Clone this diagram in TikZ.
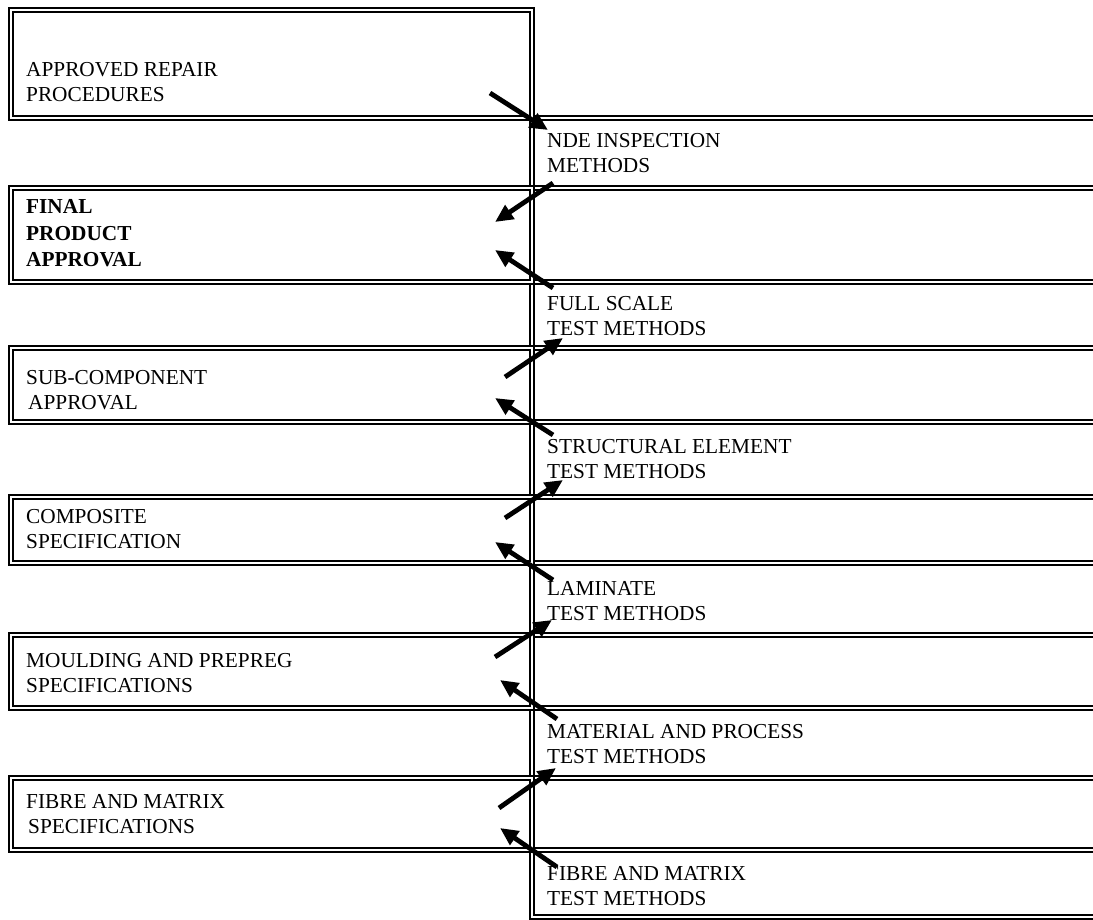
\documentclass[tikz,border=0pt]{standalone}
\usepackage{fontspec}
\setmainfont{Liberation Serif}
\usepackage{tikz}
\usetikzlibrary{arrows.meta, positioning}

\begin{document}
\begin{tikzpicture}[
        x=1pt, y=-1pt,
        box/.style={
            draw=black,
            line width=1.8pt,
            double=white,
            double distance=2pt,
            anchor=north west,
            outer sep=0pt,
            inner sep=0pt
        },
        leftbox/.style={box, minimum width=521pt},
        rightbox/.style={box, minimum width=580pt},
        boxtext/.style={
            anchor=base west,
            inner sep=0pt,
            align=left,
            font=\fontsize{21.3}{25}\selectfont
        },
        flow/.style={
            -{Triangle[length=18pt, width=16pt]},
            line width=4.8pt
        }
    ]
    \useasboundingbox (0,0) rectangle (1093,920);
    \clip (0,0) rectangle (1093,920);

    % right column
    \node[rightbox, minimum height=70pt] (nde) at (532,118) {};
    \node[rightbox, minimum height=94pt] (gap1) at (532,188) {};
    \node[rightbox, minimum height=66pt] (fullscale) at (532,282) {};
    \node[rightbox, minimum height=74pt] (gap2) at (532,348) {};
    \node[rightbox, minimum height=75pt] (structural) at (532,422) {};
    \node[rightbox, minimum height=66pt] (gap3) at (532,497) {};
    \node[rightbox, minimum height=72pt] (laminate) at (532,563) {};
    \node[rightbox, minimum height=73pt] (gap4) at (532,635) {};
    \node[rightbox, minimum height=70pt] (material) at (532,708) {};
    \node[rightbox, minimum height=72pt] (gap5) at (532,778) {};
    \node[rightbox, minimum height=67pt] (fibretest) at (532,850) {};

    % left column
    \node[leftbox, minimum height=108pt] (repair) at (11,10) {};
    \node[leftbox, minimum height=94pt] (final) at (11,188) {};
    \node[leftbox, minimum height=74pt] (subcomp) at (11,348) {};
    \node[leftbox, minimum height=66pt] (composite) at (11,497) {};
    \node[leftbox, minimum height=73pt] (moulding) at (11,635) {};
    \node[leftbox, minimum height=72pt] (fibrespec) at (11,778) {};

    % texts (placed at the baseline of their last line)
    \node[boxtext] (repair-txt) at (26,102) {APPROVED REPAIR\\PROCEDURES};
    \node[boxtext, font=\fontsize{21.3}{26.7}\selectfont\bfseries] (final-txt) at (26,267) {FINAL\\PRODUCT\\APPROVAL};
    \node[boxtext] (subcomp-txt) at (26,409) {SUB-COMPONENT\\\hspace{2pt}APPROVAL};
    \node[boxtext] (composite-txt) at (26,548) {COMPOSITE\\SPECIFICATION};
    \node[boxtext] (moulding-txt) at (26,692) {MOULDING AND PREPREG\\SPECIFICATIONS};
    \node[boxtext] (fibrespec-txt) at (26,833) {FIBRE AND MATRIX\\\hspace{2pt}SPECIFICATIONS};

    \node[boxtext] (nde-txt) at (547,173) {NDE INSPECTION\\METHODS};
    \node[boxtext] (fullscale-txt) at (547,335) {FULL SCALE\\TEST METHODS};
    \node[boxtext] (structural-txt) at (547,478) {STRUCTURAL ELEMENT\\TEST METHODS};
    \node[boxtext] (laminate-txt) at (547,620) {LAMINATE\\TEST METHODS};
    \node[boxtext] (material-txt) at (547,763) {MATERIAL AND PROCESS\\TEST METHODS};
    \node[boxtext] (fibretest-txt) at (547,905) {FIBRE AND MATRIX\\TEST METHODS};

    % arrow ends
    \coordinate (repair-out) at (490,93);
    \coordinate (nde-in) at (548,130);
    \coordinate (nde-out) at (553,183);
    \coordinate (final-in1) at (495,222);
    \coordinate (fullscale-out) at (553,288);
    \coordinate (final-in2) at (495,250);
    \coordinate (subcomp-out) at (505,377);
    \coordinate (fullscale-in) at (563,338);
    \coordinate (structural-out) at (553,435);
    \coordinate (subcomp-in) at (495,398);
    \coordinate (composite-out) at (505,518);
    \coordinate (structural-in) at (563,480);
    \coordinate (laminate-out) at (553,580);
    \coordinate (composite-in) at (495,542);
    \coordinate (moulding-out) at (495,657);
    \coordinate (laminate-in) at (552,620);
    \coordinate (material-out) at (557,719);
    \coordinate (moulding-in) at (500,680);
    \coordinate (fibrespec-out) at (499,808);
    \coordinate (material-in) at (556,768);
    \coordinate (fibretest-out) at (557,867);
    \coordinate (fibrespec-in) at (500,828);

    \draw[flow] (repair-out) -- (nde-in);
    \draw[flow] (nde-out) -- (final-in1);
    \draw[flow] (fullscale-out) -- (final-in2);
    \draw[flow] (subcomp-out) -- (fullscale-in);
    \draw[flow] (structural-out) -- (subcomp-in);
    \draw[flow] (composite-out) -- (structural-in);
    \draw[flow] (laminate-out) -- (composite-in);
    \draw[flow] (moulding-out) -- (laminate-in);
    \draw[flow] (material-out) -- (moulding-in);
    \draw[flow] (fibrespec-out) -- (material-in);
    \draw[flow] (fibretest-out) -- (fibrespec-in);
\end{tikzpicture}
\end{document}
